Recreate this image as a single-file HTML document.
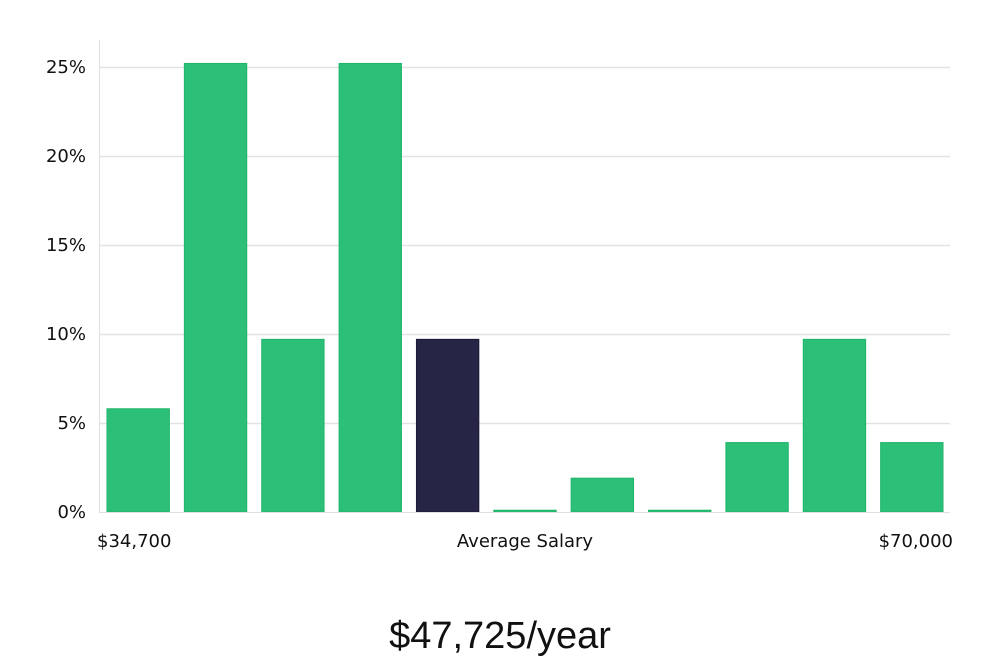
<!DOCTYPE html>
<html><head><meta charset="utf-8"><style>
html,body{margin:0;padding:0;background:#fff;width:1000px;height:660px;overflow:hidden;font-family:"DejaVu Sans","Liberation Sans",sans-serif;}
</style></head><body>
<svg id="chart" width="1000" height="660" xmlns="http://www.w3.org/2000/svg">
<g id="grid"></g>
<line x1="99.5" y1="40" x2="99.5" y2="512" stroke="#e0e0e0" stroke-width="1"/>
<g id="yticks"></g>
<g id="bars"></g>
<line x1="99" y1="512.5" x2="950" y2="512.5" stroke="#e0e0e0" stroke-width="1"/>
<text x="97" y="547" font-size="18" fill="#111">$34,700</text>
<text x="525" y="547" font-size="18" fill="#111" text-anchor="middle">Average Salary</text>
<text x="953" y="547" font-size="18" fill="#111" text-anchor="end">$70,000</text>
<text x="500" y="648" font-size="38" fill="#111" text-anchor="middle" font-family="Liberation Sans, sans-serif" font-weight="300">$47,725/year</text>
</svg>
<script>
const values = [5.8, 25.2, 9.7, 25.2, 9.7, 0.1, 1.9, 0.1, 3.9, 9.7, 3.9];
const highlight = [false, false, false, false, true, false, false, false, false, false, false];
const yTicks = [0, 5, 10, 15, 20, 25];
const yTickLabels = ["0%", "5%", "10%", "15%", "20%", "25%"];
const NS = "http://www.w3.org/2000/svg";
const x0 = 99, x1 = 950, y0 = 512, pxPerUnit = (512 - 67) / 25;
const y = v => y0 - v * pxPerUnit;
const slot = (x1 - x0) / values.length;
const xs = i => x0 + i * slot;
const grid = document.getElementById('grid'), yt = document.getElementById('yticks'), bars = document.getElementById('bars');
yTicks.forEach((t, i) => {
  if (t > 0) {
    const l = document.createElementNS(NS, 'line');
    
    
    l.setAttribute('x1', x0); l.setAttribute('x2', x1);
    l.setAttribute('y1', y(t) + 0.5); l.setAttribute('y2', y(t) + 0.5);
    l.setAttribute('stroke', '#e3e3e3'); l.setAttribute('stroke-width', '1.5');
    grid.appendChild(l);
  }
  const tx = document.createElementNS(NS, 'text');
  
  
  tx.setAttribute('x', 86); tx.setAttribute('y', y(t) + 6);
  tx.setAttribute('text-anchor', 'end'); tx.setAttribute('font-size', '18'); tx.setAttribute('fill', '#111');
  tx.textContent = yTickLabels[i];
  yt.appendChild(tx);
});
values.forEach((v, i) => {
  const r = document.createElementNS(NS, 'rect');
  
  
  const h = Math.max(v * pxPerUnit, 1);
  r.setAttribute('x', xs(i) + 8); r.setAttribute('width', slot - 15);
  r.setAttribute('y', y0 - h); r.setAttribute('height', h);
  r.setAttribute('fill', highlight[i] ? '#272546' : '#2bbf77');
  r.setAttribute('stroke', highlight[i] ? '#1c1a38' : '#1fb56a'); r.setAttribute('stroke-width', '1');
  bars.appendChild(r);
});
</script>
</body></html>
